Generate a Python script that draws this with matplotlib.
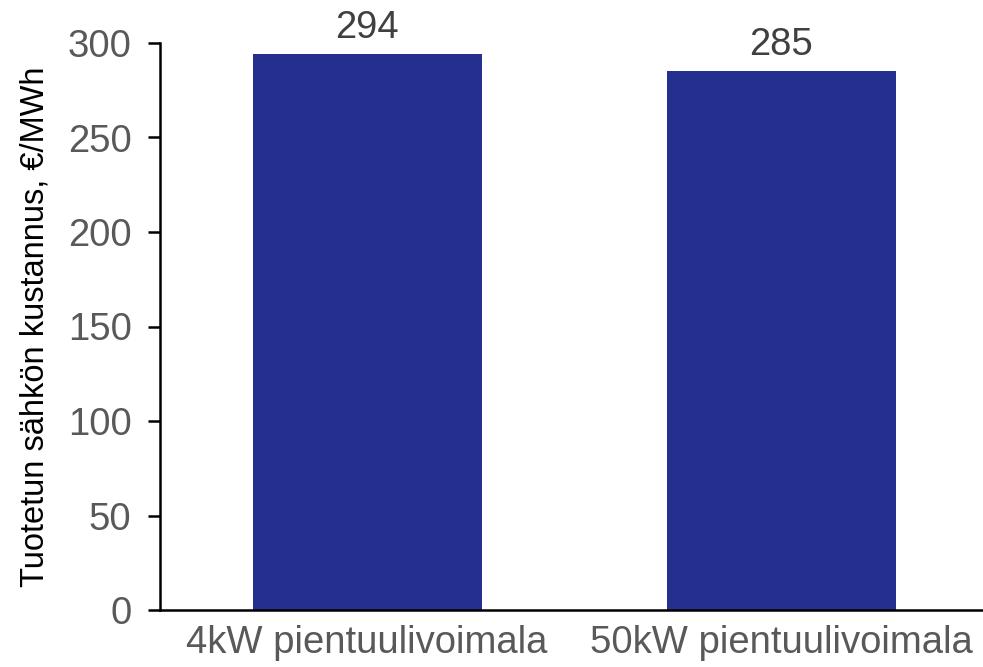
import matplotlib
matplotlib.use("Agg")
import matplotlib.pyplot as plt

categories = ["4kW pientuulivoimala", "50kW pientuulivoimala"]
values = [294, 285]
y_ticks = [0, 50, 100, 150, 200, 250, 300]
y_label = "Tuotetun sähkön kustannus, €/MWh"

plt.rcParams["font.family"] = ["Liberation Sans", "DejaVu Sans"]

W, H = 983, 667
fig = plt.figure(figsize=(W / 100, H / 100), dpi=100)
left, right, top, bottom = 160, 983, 43, 610
ax = fig.add_axes([left / W, 1 - bottom / H, (right - left) / W, (bottom - top) / H])

x = list(range(len(categories)))
bars = ax.bar(x, values, width=0.5525, color="#252F8E", zorder=2)

ax.set_xlim(-0.5, 1.487)
ax.set_ylim(0, 300)
ax.set_yticks(y_ticks)
ax.set_xticks(x)
ax.set_xticklabels(categories)

for s in ["top", "right"]:
    ax.spines[s].set_visible(False)
for s in ["left", "bottom"]:
    ax.spines[s].set_linewidth(1.8)
    ax.spines[s].set_color("black")

ax.tick_params(axis="y", length=8.5, width=1.8, labelsize=27.5, labelcolor="#595959", pad=12)
ax.tick_params(axis="x", length=0, labelsize=27.5, labelcolor="#595959", pad=11)

ax.set_ylabel(y_label, fontsize=23.5, color="black", labelpad=12)

for b, v in zip(bars, values):
    ax.annotate(f"{v}", (b.get_x() + b.get_width() / 2, v), xytext=(0, 6),
                textcoords="offset points", ha="center", va="bottom",
                fontsize=27.5, color="#404040")

fig.savefig("out.png", dpi=100)
